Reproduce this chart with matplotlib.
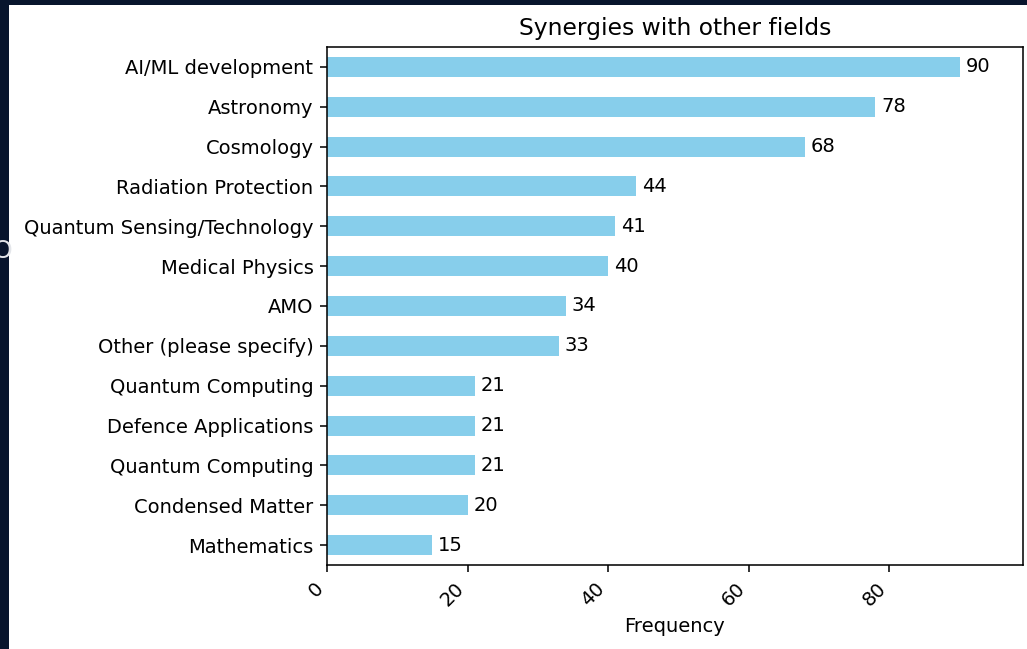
import numpy as np
import matplotlib.pyplot as plt
from matplotlib.patches import Rectangle

# Data, listed bottom to top as drawn
fields = ['Mathematics', 'Condensed Matter', 'Quantum Computing',
          'Defence Applications', 'Quantum Computing', 'Other (please specify)',
          'AMO', 'Medical Physics', 'Quantum Sensing/Technology',
          'Radiation Protection', 'Cosmology', 'Astronomy', 'AI/ML development']
counts = [15, 20, 21, 21, 21, 33, 34, 40, 41, 44, 68, 78, 90]
xticks = [0, 20, 40, 60, 80]

fig = plt.figure(figsize=(1027 / 140, 649 / 140), dpi=140)
fig.patch.set_facecolor('#08152d')

# white page area of the screenshot, kept behind the axes
fig.patches.append(Rectangle((9 / 1027, 0), 1 - 9 / 1027, 1 - 5 / 649,
                             transform=fig.transFigure, facecolor='white',
                             edgecolor='none', zorder=-10))
# clipped stray letter at the left edge
fig.text(-7 / 1027, 1 - 251 / 649, 'O', color='#e4e6ea', fontsize=13,
         ha='left', va='center')

ax = fig.add_axes([327 / 1027, 1 - 565 / 649, (1023 - 327) / 1027, (565 - 47) / 649])
ypos = np.arange(len(fields))
bars = ax.barh(ypos, counts, height=0.5, color='skyblue')
ax.bar_label(bars, padding=3)

ax.set_yticks(ypos)
ax.set_yticklabels(fields)
ax.set_ylim(-0.5, len(fields) - 0.5)
ax.set_xlim(0, max(counts) * 1.1)
ax.set_xticks(xticks)
plt.setp(ax.get_xticklabels(), rotation=45, ha='right')
ax.set_xlabel('Frequency')
ax.set_title('Synergies with other fields')

fig.savefig('out.png', dpi=140, facecolor=fig.get_facecolor())
